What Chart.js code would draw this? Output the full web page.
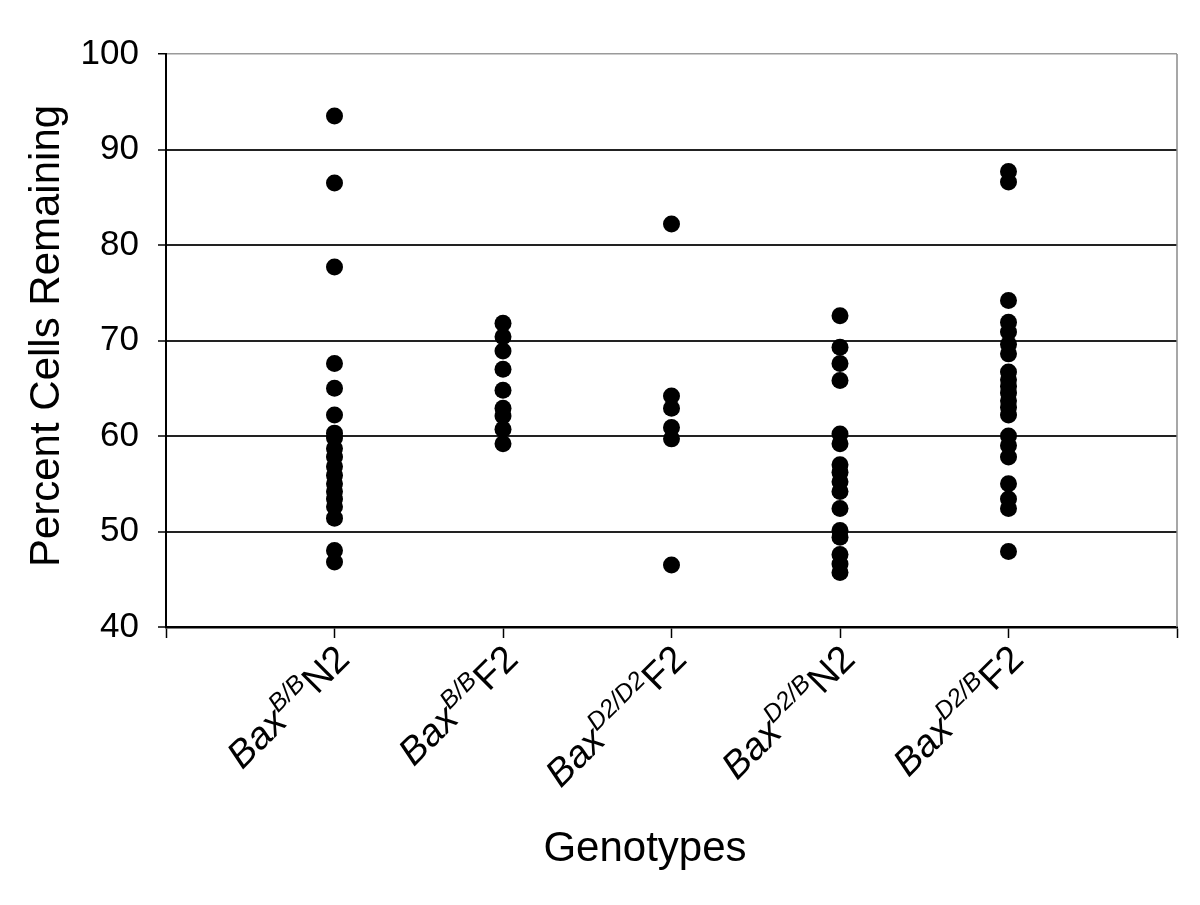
<!DOCTYPE html>
<html>
<head>
<meta charset="utf-8">
<script src="https://cdn.jsdelivr.net/npm/chart.js@4/dist/chart.umd.min.js"></script>
<style>
  html, body { margin: 0; padding: 0; background: #fff; }
  #wrap { width: 1200px; height: 905px; }
</style>
</head>
<body>
<div id="wrap"><canvas id="chart" width="1200" height="905"></canvas></div>
<script>
const labelBase = ['Bax', 'Bax', 'Bax', 'Bax', 'Bax']
const labelSup = ['B/B', 'B/B', 'D2/D2', 'D2/B', 'D2/B']
const labelEnd = ['N2', 'F2', 'F2', 'N2', 'F2']

const bbN2 = [93.5, 86.5, 77.7, 67.6, 65.0, 62.2, 60.3, 59.8, 58.7, 57.8, 56.8, 55.9, 55.0, 54.2, 53.4, 52.6, 51.4, 48.0, 46.8]
const bbF2 = [71.8, 70.4, 68.9, 67.0, 64.8, 62.9, 62.1, 60.7, 59.2]
const d2d2F2 = [82.2, 64.2, 62.9, 60.9, 59.7, 46.5]
const d2bN2 = [72.6, 69.3, 67.6, 65.8, 60.2, 59.2, 57.0, 56.2, 55.2, 54.2, 52.4, 50.1, 49.4, 47.6, 46.6, 45.7]
const d2bF2 = [87.7, 86.6, 74.2, 71.9, 70.9, 69.6, 68.6, 66.7, 65.9, 65.2, 64.5, 63.7, 63.0, 62.2, 60.0, 59.0, 57.8, 55.0, 53.4, 52.4, 47.9]

const yTicks = [40, 50, 60, 70, 80, 90, 100]
const xTitle = 'Genotypes'
const yTitle = 'Percent Cells Remaining'

const groups = [bbN2, bbF2, d2d2F2, d2bN2, d2bF2]
const points = []
groups.forEach((vals, i) => {
  vals.forEach(v => points.push({ x: i + 1, y: v }))
})

const FONT = "'Liberation Sans', Arial, Helvetica, sans-serif"

const decorations = {
  id: 'decorations',
  afterDraw (chart) {
    const ctx = chart.ctx
    const area = chart.chartArea
    const xs = chart.scales.x
    ctx.save()

    // right border, light
    ctx.strokeStyle = '#8a8a8a'
    ctx.lineWidth = 1.5
    ctx.beginPath()
    ctx.moveTo(area.right, area.top)
    ctx.lineTo(area.right, area.bottom)
    ctx.stroke()

    ctx.fillStyle = '#000'
    // rotated category labels with superscripts
    labelBase.forEach((base, i) => {
      const px = xs.getPixelForValue(i + 1)
      ctx.save()
      ctx.translate(px + 17, 661)
      ctx.rotate(-Math.PI / 4)
      ctx.textBaseline = 'alphabetic'
      ctx.textAlign = 'left'
      const fMain = 'italic 38px ' + FONT
      const fSup = 'italic 25px ' + FONT
      const fEnd = '38px ' + FONT
      ctx.font = fMain
      const w1 = ctx.measureText(base).width
      ctx.font = fSup
      const w2 = ctx.measureText(labelSup[i]).width
      ctx.font = fEnd
      const w3 = ctx.measureText(labelEnd[i]).width
      let x = -(w1 + w2 + w3)
      ctx.font = fMain
      ctx.fillText(base, x, 0)
      x += w1
      ctx.font = fSup
      ctx.fillText(labelSup[i], x, -15)
      x += w2
      ctx.font = fEnd
      ctx.fillText(labelEnd[i], x, 0)
      ctx.restore()
    })

    // axis titles
    ctx.font = '42px ' + FONT
    ctx.textAlign = 'center'
    ctx.textBaseline = 'alphabetic'
    ctx.fillText(xTitle, 645, 861)

    ctx.save()
    ctx.translate(59, 336)
    ctx.rotate(-Math.PI / 2)
    ctx.fillText(yTitle, 0, 0)
    ctx.restore()

    ctx.restore()
  }
}

new Chart(document.getElementById('chart'), {
  type: 'scatter',
  data: {
    datasets: [{
      data: points,
      backgroundColor: '#000',
      borderColor: '#000',
      borderWidth: 0,
      pointRadius: 8.5,
      pointHoverRadius: 8.5
    }]
  },
  options: {
    responsive: false,
    animation: false,
    events: [],
    layout: { padding: { top: 54, right: 23, left: 0, bottom: 0 } },
    plugins: {
      legend: { display: false },
      tooltip: { enabled: false }
    },
    scales: {
      x: {
        type: 'linear',
        min: 0,
        max: 6,
        afterBuildTicks: (s) => { s.ticks = [0, 1, 2, 3, 4, 5, 6].map(v => ({ value: v })) },
        afterFit: (s) => { s.height = 278 },
        ticks: { callback: () => '', font: { size: 1 } },
        grid: {
          drawOnChartArea: false,
          drawTicks: true,
          tickLength: 11,
          tickColor: '#000',
          tickWidth: 1.5
        },
        border: { color: '#000', width: 2.5 }
      },
      y: {
        min: 40,
        max: 100,
        afterBuildTicks: (s) => { s.ticks = yTicks.map(v => ({ value: v })) },
        afterFit: (s) => { s.width = 166 },
        ticks: {
          color: '#000',
          padding: 19,
          font: { family: FONT, size: 35 }
        },
        grid: {
          color: (c) => c.tick && c.tick.value === 100 ? '#9a9a9a' : '#222',
          lineWidth: (c) => c.tick && c.tick.value === 100 ? 1.5 : 2,
          tickColor: '#000',
          tickLength: 8,
          tickWidth: 1.5
        },
        border: { color: '#000', width: 2 }
      }
    }
  },
  plugins: [decorations]
})
</script>
</body>
</html>
